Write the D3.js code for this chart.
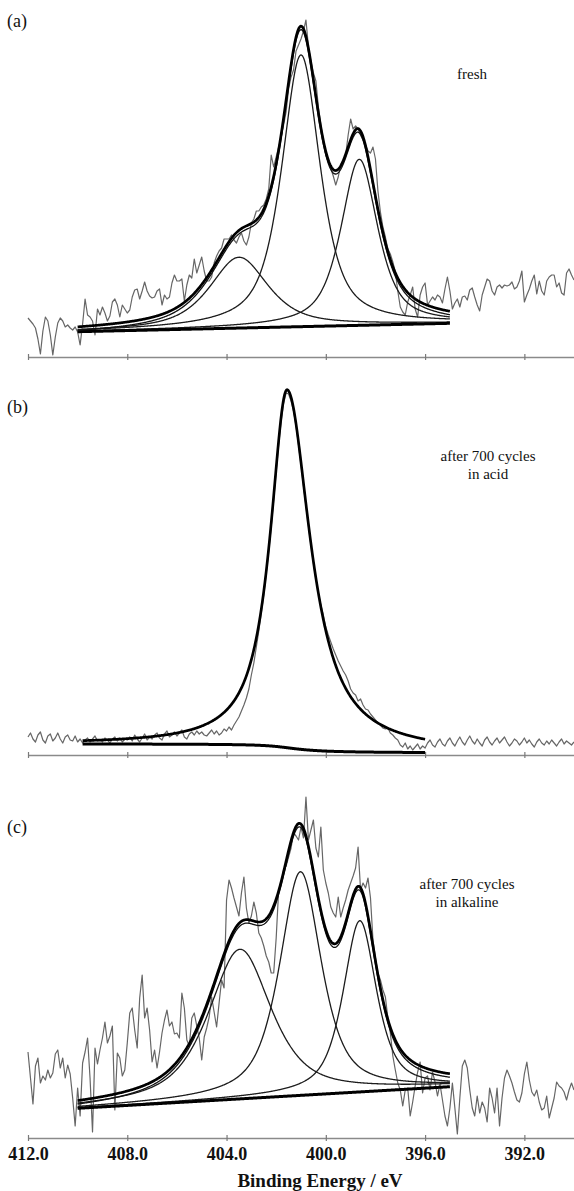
<!DOCTYPE html>
<html>
<head>
<meta charset="utf-8">
<script src="https://cdn.jsdelivr.net/npm/d3@7"></script>
<style>
  html, body { margin: 0; padding: 0; background: #fff; }
  svg { display: block; }
  text { font-family: "Liberation Serif", "DejaVu Serif", serif; fill: #111; }
</style>
</head>
<body>
<svg id="chart" width="574" height="1191"></svg>
<script>
// ---- N 1s spectra: raw counts on a 0.1 eV grid starting at 412.0 eV ----
const energyStart = 412.0;
const energyStep = 0.1;

const rawFresh = [
  39,36,33,29,18,3,26,40,36,22,
  2,20,34,39,36,30,32,29,27,30,
  25,12,33,58,42,40,36,22,48,42,
  50,44,36,41,55,58,52,40,52,48,
  44,47,60,67,68,58,66,75,66,61,
  59,60,66,68,52,62,58,60,74,82,
  76,76,78,56,72,82,79,98,84,92,
  100,86,76,76,80,94,101,106,109,118,
  118,118,122,117,114,120,124,116,112,120,
  134,138,146,146,150,152,158,168,202,190,
  200,210,220,232,245,268,280,287,306,312,
  318,326,337,310,296,284,276,250,232,217,
  202,195,189,181,172,180,192,196,202,222,
  238,228,231,228,222,217,212,206,204,210,
  198,166,145,130,120,108,103,95,85,66,
  50,45,42,55,62,70,48,40,62,70,
  74,52,56,60,57,62,60,54,68,80,
  66,48,54,58,50,60,61,57,67,69,
  60,52,46,62,70,78,76,66,62,70,
  72,69,72,71,72,75,68,70,76,86,
  55,62,68,76,82,63,76,66,62,76,
  80,82,82,70,74,64,62,84,88,82,77
];

const rawAcid = [
  18,22,16,13,20,23,15,12,19,21,
  14,17,22,16,12,18,20,15,14,19,
  13,16,12,15,17,13,16,19,14,15,
  13,17,15,12,16,18,14,17,13,16,
  15,18,14,20,16,13,17,21,15,18,
  16,20,22,17,15,21,24,18,20,23,
  19,22,25,18,16,21,23,20,24,21,
  23,20,19,22,25,21,24,20,22,26,
  24,28,25,30,34,38,44,50,57,66,
  80,92,108,124,142,160,182,204,228,255,
  283,310,334,352,362,361,354,344,329,310,
  290,269,249,229,210,192,176,162,150,140,
  128,120,113,106,100,94,89,84,80,74,
  66,62,60,54,56,50,46,45,41,38,
  35,32,30,27,26,27,22,20,17,15,
  10,8,12,6,9,5,8,11,6,9,
  7,12,15,10,8,13,16,11,9,14,
  17,12,9,14,18,13,10,15,19,14,
  11,16,12,9,15,18,13,10,14,17,
  12,15,18,13,9,12,16,14,10,13,
  17,12,15,11,8,13,16,12,10,14,
  11,15,12,9,13,16,11,14,12,10,13
];

const rawAlkaline = [
  86,60,34,72,80,55,62,58,68,60,
  65,84,88,70,80,60,73,64,40,12,
  50,22,75,86,100,60,6,90,74,88,
  100,116,95,102,112,28,85,80,62,68,
  95,125,130,108,90,140,163,120,130,108,
  76,88,70,86,105,118,128,112,116,104,
  105,100,145,130,98,92,120,125,112,100,
  78,101,110,121,141,126,111,135,158,150,
  238,258,250,240,231,222,245,261,230,215,
  222,236,225,205,200,192,182,176,165,165,
  200,248,255,268,272,281,290,305,302,298,
  311,300,341,298,308,318,290,281,311,268,
  255,245,231,225,221,241,221,230,238,248,
  255,262,270,291,248,255,250,260,240,198,
  180,165,158,148,141,120,105,82,68,55,
  48,32,48,50,22,36,52,66,76,45,
  60,62,48,66,56,42,54,38,22,12,
  30,55,30,4,40,72,78,70,48,30,
  22,42,25,36,30,16,50,40,25,50,
  12,40,60,68,62,55,46,38,36,45,
  64,76,58,46,42,48,36,28,30,42,
  20,30,40,56,52,50,46,38,48,55,48
];

// ---- peak-fit results ----
// fresh: three components on a linear background
const freshCentres = [401.0, 398.65, 403.5];
const freshHeights = [271.7, 166, 70.8];
const freshWidths  = [0.92, 0.88, 1.4];
const freshRange   = [410.0, 395.0];
const freshBackground = [25.3, 33.7];

// after cycling in acid: one asymmetric component on a Shirley background
const acidCentres = [401.56];
const acidHeights = [358];
const acidWidthsHigh = [0.82];   // high binding-energy side
const acidWidthsLow  = [1.12];   // low binding-energy side
const acidRange = [409.8, 396.0];
const acidBackground = [11, 2.5];

// after cycling in alkaline: three components on a linear background
const alkCentres = [401.02, 398.63, 403.46];
const alkHeights = [223.6, 171.2, 149.6];
const alkWidths  = [1.0, 0.8, 1.5];
const alkRange   = [410.0, 395.0];
const alkBackground = [29.7, 51.3];

// axis ticks
const tickValues = [412, 408, 404, 400, 396, 392];

// ---- drawing ----
const SERIF = '"Liberation Serif", "DejaVu Serif", serif';
const svg = d3.select("#chart");
const x = d3.scaleLinear().domain([412, 390]).range([28, 574]);

function profile(E, c, h, wHigh, wLow, eta) {
  const w = E >= c ? wHigh : wLow;
  const r = (E - c) / w;
  return h * (eta / (1 + r * r) + (1 - eta) * Math.exp(-Math.LN2 * r * r));
}

const panels = [
  {
    label: "(a)", labelY: 27, notes: ["fresh"], noteX: 472, noteY: 79,
    raw: rawFresh, axisY: 357, yMax: 340, top: 17,
    range: freshRange, bgEnds: freshBackground, bgType: "linear",
    comps: freshCentres.map((c, i) => ({c, h: freshHeights[i], wH: freshWidths[i], wL: freshWidths[i]})),
    eta: 0.7, inner: true, tickLabels: false
  },
  {
    label: "(b)", labelY: 413, notes: ["after 700 cycles", "in acid"], noteX: 488, noteY: 461,
    raw: rawAcid, axisY: 755, yMax: 370, top: 385,
    range: acidRange, bgEnds: acidBackground, bgType: "shirley",
    comps: acidCentres.map((c, i) => ({c, h: acidHeights[i], wH: acidWidthsHigh[i], wL: acidWidthsLow[i]})),
    eta: 0.95, inner: false, tickLabels: false
  },
  {
    label: "(c)", labelY: 833, notes: ["after 700 cycles", "in alkaline"], noteX: 467, noteY: 889,
    raw: rawAlkaline, axisY: 1138, yMax: 360, top: 778,
    range: alkRange, bgEnds: alkBackground, bgType: "linear",
    comps: alkCentres.map((c, i) => ({c, h: alkHeights[i], wH: alkWidths[i], wL: alkWidths[i]})),
    eta: 0.7, inner: true, tickLabels: true
  }
];

panels.forEach(p => {
  const g = svg.append("g");
  const y = d3.scaleLinear().domain([0, p.yMax]).range([p.axisY, p.top]);

  // axis
  const axis = d3.axisBottom(x)
    .tickValues(tickValues)
    .tickSizeOuter(0)
    .tickSize(0)
    .tickPadding(9)
    .tickFormat(p.tickLabels ? d3.format(".1f") : () => "");
  const ax = g.append("g").attr("transform", `translate(0,${p.axisY})`).call(axis)
    .attr("font-family", SERIF).attr("font-size", 18);
  ax.select(".domain").attr("stroke", "#8a8a8a").attr("stroke-width", 1.4);
  ax.selectAll(".tick line").attr("y1", -3).attr("y2", 3)
    .attr("stroke", "#7a7a7a").attr("stroke-width", 1.2);
  ax.selectAll(".tick text")
    .style("font-family", SERIF)
    .style("font-weight", "bold").style("font-size", "18px").attr("fill", "#111")
    .attr("dy", "0.71em");

  // raw spectrum
  const rawLine = d3.line()
    .x((d, i) => x(energyStart - energyStep * i))
    .y(d => y(d));
  g.append("path").datum(p.raw)
    .attr("d", rawLine).attr("fill", "none")
    .attr("stroke", "#666").attr("stroke-width", 1.2).attr("stroke-linejoin", "round");

  // fit grid
  const [hi, lo] = p.range;
  const grid = d3.range(hi, lo - 1e-9, -0.02);
  const peakVals = grid.map(E => p.comps.map(k => profile(E, k.c, k.h, k.wH, k.wL, p.eta)));
  const sums = peakVals.map(v => d3.sum(v));

  let bg;
  if (p.bgType === "linear") {
    bg = grid.map(E => p.bgEnds[0] + (p.bgEnds[1] - p.bgEnds[0]) * (hi - E) / (hi - lo));
  } else {
    // Shirley step: proportional to the peak area on the low-energy side
    const cum = new Array(grid.length).fill(0);
    for (let i = grid.length - 2; i >= 0; i--) {
      cum[i] = cum[i + 1] + 0.5 * (sums[i] + sums[i + 1]) * 0.02;
    }
    const total = cum[0];
    bg = cum.map(a => p.bgEnds[1] + (p.bgEnds[0] - p.bgEnds[1]) * a / total);
  }

  const fitLine = d3.line().x(d => x(d[0])).y(d => y(d[1]));

  // individual components
  if (p.comps.length > 1) {
    p.comps.forEach((k, j) => {
      g.append("path")
        .datum(grid.map((E, i) => [E, bg[i] + peakVals[i][j]]))
        .attr("d", fitLine).attr("fill", "none")
        .attr("stroke", "#1c1c1c").attr("stroke-width", 1.3);
    });
  }

  // background
  g.append("path")
    .datum(grid.map((E, i) => [E, bg[i]]))
    .attr("d", fitLine).attr("fill", "none")
    .attr("stroke", "#000").attr("stroke-width", 3);

  // envelope (and its companion trace)
  if (p.inner) {
    g.append("path")
      .datum(grid.map((E, i) => [E, bg[i] + sums[i] - 3.5]))
      .attr("d", fitLine).attr("fill", "none")
      .attr("stroke", "#111").attr("stroke-width", 1.3);
  }
  g.append("path")
    .datum(grid.map((E, i) => [E, bg[i] + sums[i]]))
    .attr("d", fitLine).attr("fill", "none")
    .attr("stroke", "#000").attr("stroke-width", 2.7);

  // labels
  g.append("text").attr("x", 7).attr("y", p.labelY)
    .style("font-family", SERIF).style("font-size", "18px").text(p.label);
  p.notes.forEach((t, i) => {
    g.append("text").attr("x", p.noteX).attr("y", p.noteY + i * 18)
      .attr("text-anchor", "middle")
      .style("font-family", SERIF).style("font-size", "15px").text(t);
  });
});

svg.append("text")
  .attr("x", 320).attr("y", 1187)
  .attr("text-anchor", "middle")
  .style("font-family", SERIF)
  .style("font-size", "19px").style("font-weight", "bold")
  .text("Binding Energy / eV");
</script>
</body>
</html>
